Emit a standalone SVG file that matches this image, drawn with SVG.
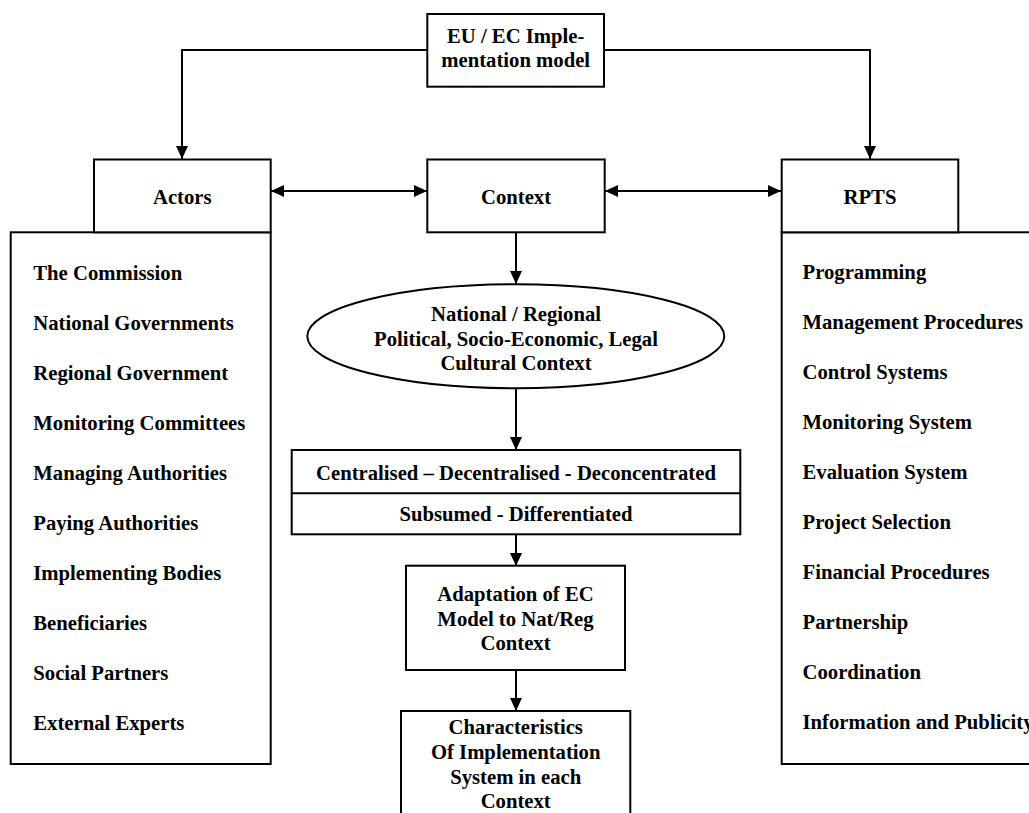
<svg xmlns="http://www.w3.org/2000/svg" width="1029" height="813" viewBox="0 0 1029 813">
<style>
  .box { fill: #ffffff; stroke: #000000; stroke-width: 2; }
  .t { font-family: "Liberation Serif", "Times New Roman", serif; font-weight: bold; font-size: 20.7px; fill: #000000; }
  .c { text-anchor: middle; }
  .ln { fill: none; stroke: #000000; stroke-width: 2; }
</style>
<defs>
  <marker id="ah" markerUnits="userSpaceOnUse" markerWidth="13" markerHeight="12" refX="13" refY="6" orient="auto-start-reverse">
    <path d="M0,0 L13,6 L0,12 z" fill="#000000"/>
  </marker>
</defs>
<rect x="0" y="0" width="1029" height="813" fill="#ffffff"/>

<g id="connectors">
  <path class="ln" d="M427,50 H182 V159" marker-end="url(#ah)"/>
  <path class="ln" d="M604,50 H870 V159" marker-end="url(#ah)"/>
  <path class="ln" d="M271,191 H427" marker-start="url(#ah)" marker-end="url(#ah)"/>
  <path class="ln" d="M605,191 H781" marker-start="url(#ah)" marker-end="url(#ah)"/>
  <path class="ln" d="M516,233 V284" marker-end="url(#ah)"/>
  <path class="ln" d="M516,388 V450" marker-end="url(#ah)"/>
  <path class="ln" d="M516,534 V566" marker-end="url(#ah)"/>
  <path class="ln" d="M516,670 V711" marker-end="url(#ah)"/>
</g>

<g id="eu-model">
  <rect class="box" x="427.3" y="14" width="176.7" height="72.7"/>
  <text class="t c" x="515.7" y="43">EU / EC Imple-</text>
  <text class="t c" x="515.7" y="67">mentation model</text>
</g>

<g id="actors">
  <rect class="box" x="10.7" y="232.3" width="260" height="531.7"/>
  <rect class="box" x="94" y="159.5" width="176.7" height="72.8"/>
  <text class="t c" x="182.3" y="204">Actors</text>
  <text class="t" x="33.3" y="280">The Commission</text>
  <text class="t" x="33.3" y="330">National Governments</text>
  <text class="t" x="33.3" y="380">Regional Government</text>
  <text class="t" x="33.3" y="430">Monitoring Committees</text>
  <text class="t" x="33.3" y="480">Managing Authorities</text>
  <text class="t" x="33.3" y="530">Paying Authorities</text>
  <text class="t" x="33.3" y="580">Implementing Bodies</text>
  <text class="t" x="33.3" y="630">Beneficiaries</text>
  <text class="t" x="33.3" y="680">Social Partners</text>
  <text class="t" x="33.3" y="730">External Experts</text>
</g>

<g id="context">
  <rect class="box" x="427.3" y="159.5" width="177.4" height="72.8"/>
  <text class="t c" x="516" y="204">Context</text>
</g>

<g id="rpts">
  <rect class="box" x="781.7" y="232.3" width="270" height="531.7"/>
  <rect class="box" x="781.7" y="159.5" width="176.6" height="72.8"/>
  <text class="t c" x="870" y="204">RPTS</text>
  <text class="t" x="802.5" y="279">Programming</text>
  <text class="t" x="802.5" y="329">Management Procedures</text>
  <text class="t" x="802.5" y="379">Control Systems</text>
  <text class="t" x="802.5" y="429">Monitoring System</text>
  <text class="t" x="802.5" y="479">Evaluation System</text>
  <text class="t" x="802.5" y="529">Project Selection</text>
  <text class="t" x="802.5" y="579">Financial Procedures</text>
  <text class="t" x="802.5" y="629">Partnership</text>
  <text class="t" x="802.5" y="679">Coordination</text>
  <text class="t" x="802.5" y="729">Information and Publicity</text>
</g>

<g id="national-context">
  <ellipse class="box" cx="515.8" cy="336.3" rx="208.5" ry="52"/>
  <text class="t c" x="516" y="321">National / Regional</text>
  <text class="t c" x="516" y="345.5">Political, Socio-Economic, Legal</text>
  <text class="t c" x="516" y="370">Cultural Context</text>
</g>

<g id="system-types">
  <rect class="box" x="291.7" y="450" width="448.6" height="84.3"/>
  <line class="ln" x1="291.7" y1="493.3" x2="740.3" y2="493.3"/>
  <text class="t c" x="516" y="479.5">Centralised – Decentralised - Deconcentrated</text>
  <text class="t c" x="516" y="521">Subsumed - Differentiated</text>
</g>

<g id="adaptation">
  <rect class="box" x="406" y="565.7" width="219" height="104.3"/>
  <text class="t c" x="515.5" y="600.5">Adaptation of EC</text>
  <text class="t c" x="515.5" y="625.5">Model to Nat/Reg</text>
  <text class="t c" x="515.5" y="650">Context</text>
</g>

<g id="characteristics">
  <rect class="box" x="401" y="711" width="229.3" height="130"/>
  <text class="t c" x="515.7" y="734">Characteristics</text>
  <text class="t c" x="515.7" y="759">Of Implementation</text>
  <text class="t c" x="515.7" y="783.5">System in each</text>
  <text class="t c" x="515.7" y="808">Context</text>
</g>
</svg>
